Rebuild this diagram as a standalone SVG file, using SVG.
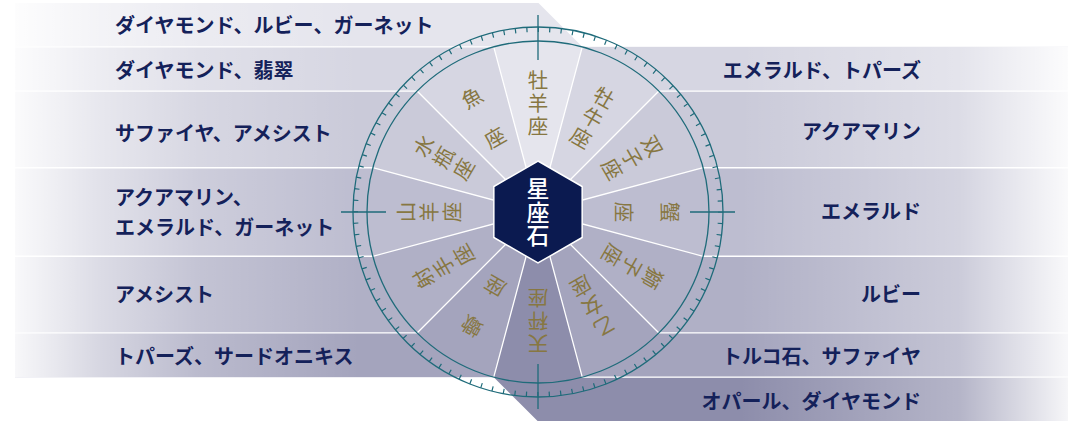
<svg xmlns="http://www.w3.org/2000/svg" width="1075" height="425" viewBox="0 0 1075 425">
<defs>
<style>
.c0{fill:#e5e5ed}.c1{fill:#d6d6e2}.c2{fill:#cacad9}.c3{fill:#bdbdd0}.c4{fill:#b0b0c6}.c5{fill:#a4a4bd}.c6{fill:#8d8dab}
.fadeL{fill:url(#gL)}.fadeR{fill:url(#gR)}
.lbl{font-family:"Noto Sans CJK JP","Noto Sans",sans-serif;font-weight:700;font-size:20px;fill:#14215a;dominant-baseline:central}
.lblR{text-anchor:end}
.z{font-family:"Noto Sans CJK JP",sans-serif;font-weight:400;font-size:20.5px;fill:#877742;text-anchor:middle;writing-mode:vertical-rl}
.wl{stroke:#ffffff;stroke-width:1.3;fill:none}
.ring{stroke:#1f6b7a;stroke-width:1.3;fill:none}
.hubt{font-family:"Noto Sans CJK JP",sans-serif;font-weight:500;font-size:23px;fill:#ffffff;text-anchor:middle;writing-mode:vertical-rl}
</style>
<linearGradient id="gL" gradientUnits="userSpaceOnUse" x1="15" y1="0" x2="360" y2="0">
<stop offset="0" stop-color="#ffffff" stop-opacity="0.92"/>
<stop offset="0.25" stop-color="#ffffff" stop-opacity="0.55"/>
<stop offset="0.53" stop-color="#ffffff" stop-opacity="0.25"/>
<stop offset="1" stop-color="#ffffff" stop-opacity="0"/>
</linearGradient>
<linearGradient id="gR" gradientUnits="userSpaceOnUse" x1="740" y1="0" x2="1068" y2="0">
<stop offset="0" stop-color="#ffffff" stop-opacity="0"/>
<stop offset="0.67" stop-color="#ffffff" stop-opacity="0.35"/>
<stop offset="1" stop-color="#ffffff" stop-opacity="0.92"/>
</linearGradient>
</defs>
<rect width="1075" height="425" fill="#ffffff"/>

<g id="bands-left">
<g id="band-L1"><polygon class="c0" points="15,3 538.5,3 582.26,46.83 15,46.83"/><rect class="fadeL" x="15" y="3" width="345" height="43.83"/><text class="lbl" x="115" y="24.5">ダイヤモンド、ルビー、ガーネット</text></g>
<g id="band-L2"><rect class="c1" x="15" y="46.83" width="523" height="44.25"/><rect class="fadeL" x="15" y="46.83" width="345" height="44.25"/><text class="lbl" x="115" y="69.5">ダイヤモンド、翡翠</text></g>
<g id="band-L3"><rect class="c2" x="15" y="91.08" width="523" height="76.66"/><rect class="fadeL" x="15" y="91.08" width="345" height="76.66"/><text class="lbl" x="115" y="132">サファイヤ、アメシスト</text></g>
<g id="band-L4"><rect class="c3" x="15" y="167.74" width="523" height="88.52"/><rect class="fadeL" x="15" y="167.74" width="345" height="88.52"/><text class="lbl" x="115" y="196.5">アクアマリン、</text><text class="lbl" x="115" y="226">エメラルド、ガーネット</text></g>
<g id="band-L5"><rect class="c4" x="15" y="256.26" width="523" height="76.66"/><rect class="fadeL" x="15" y="256.26" width="345" height="76.66"/><text class="lbl" x="115" y="293.5">アメシスト</text></g>
<g id="band-L6"><rect class="c5" x="15" y="332.92" width="523" height="44.25"/><rect class="fadeL" x="15" y="332.92" width="345" height="44.25"/><text class="lbl" x="115" y="355.5">トパーズ、サードオニキス</text></g>
</g>

<g id="bands-right">
<g id="band-R1"><rect class="c1" x="538" y="46.83" width="530" height="44.25"/><rect class="fadeR" x="740" y="46.83" width="328" height="44.25"/><text class="lbl lblR" x="921" y="69.5">エメラルド、トパーズ</text></g>
<g id="band-R2"><rect class="c2" x="538" y="91.08" width="530" height="76.66"/><rect class="fadeR" x="740" y="91.08" width="328" height="76.66"/><text class="lbl lblR" x="921" y="130.5">アクアマリン</text></g>
<g id="band-R3"><rect class="c3" x="538" y="167.74" width="530" height="88.52"/><rect class="fadeR" x="740" y="167.74" width="328" height="88.52"/><text class="lbl lblR" x="921" y="210.5">エメラルド</text></g>
<g id="band-R4"><rect class="c4" x="538" y="256.26" width="530" height="76.66"/><rect class="fadeR" x="740" y="256.26" width="328" height="76.66"/><text class="lbl lblR" x="921" y="293.5">ルビー</text></g>
<g id="band-R5"><rect class="c5" x="538" y="332.92" width="530" height="44.25"/><rect class="fadeR" x="740" y="332.92" width="328" height="44.25"/><text class="lbl lblR" x="921" y="355.5">トルコ石、サファイヤ</text></g>
<g id="band-R6"><polygon class="c6" points="493.74,377.17 1068,377.17 1068,421 537.6,421"/><rect class="fadeR" x="740" y="377.17" width="328" height="43.83"/><text class="lbl lblR" x="921" y="400.5">オパール、ダイヤモンド</text></g>
</g>

<g id="wheel">
<g id="sign-aries"><path class="c0" d="M538 212 L493.74 46.83 A171 171 0 0 1 582.26 46.83 Z"/><g transform="rotate(0 538 212)"><text class="z" x="538" y="80">牡</text><text class="z" x="538" y="103">羊</text><text class="z" x="538" y="126">座</text></g></g>
<g id="sign-taurus"><path class="c1" d="M538 212 L582.26 46.83 A171 171 0 0 1 658.92 91.08 Z"/><g transform="rotate(30 538 212)"><text class="z" x="538" y="80">牡</text><text class="z" x="538" y="103">牛</text><text class="z" x="538" y="126">座</text></g></g>
<g id="sign-gemini"><path class="c2" d="M538 212 L658.92 91.08 A171 171 0 0 1 703.17 167.74 Z"/><g transform="rotate(60 538 212)"><text class="z" x="538" y="80">双</text><text class="z" x="538" y="103">子</text><text class="z" x="538" y="126">座</text></g></g>
<g id="sign-cancer"><path class="c3" d="M538 212 L703.17 167.74 A171 171 0 0 1 703.17 256.26 Z"/><g transform="rotate(90 538 212)"><text class="z" x="538" y="80">蟹</text><text class="z" x="538" y="126">座</text></g></g>
<g id="sign-leo"><path class="c4" d="M538 212 L703.17 256.26 A171 171 0 0 1 658.92 332.92 Z"/><g transform="rotate(120 538 212)"><text class="z" x="538" y="80">獅</text><text class="z" x="538" y="103">子</text><text class="z" x="538" y="126">座</text></g></g>
<g id="sign-virgo"><path class="c5" d="M538 212 L658.92 332.92 A171 171 0 0 1 582.26 377.17 Z"/><g transform="rotate(150 538 212)"><text class="z" x="538" y="80">乙</text><text class="z" x="538" y="103">女</text><text class="z" x="538" y="126">座</text></g></g>
<g id="sign-libra"><path class="c6" d="M538 212 L582.26 377.17 A171 171 0 0 1 493.74 377.17 Z"/><g transform="rotate(180 538 212)"><text class="z" x="538" y="80">天</text><text class="z" x="538" y="103">秤</text><text class="z" x="538" y="126">座</text></g></g>
<g id="sign-scorpio"><path class="c5" d="M538 212 L493.74 377.17 A171 171 0 0 1 417.08 332.92 Z"/><g transform="rotate(210 538 212)"><text class="z" x="538" y="80">蠍</text><text class="z" x="538" y="126">座</text></g></g>
<g id="sign-sagittarius"><path class="c4" d="M538 212 L417.08 332.92 A171 171 0 0 1 372.83 256.26 Z"/><g transform="rotate(240 538 212)"><text class="z" x="538" y="80">射</text><text class="z" x="538" y="103">手</text><text class="z" x="538" y="126">座</text></g></g>
<g id="sign-capricorn"><path class="c3" d="M538 212 L372.83 256.26 A171 171 0 0 1 372.83 167.74 Z"/><g transform="rotate(270 538 212)"><text class="z" x="538" y="80">山</text><text class="z" x="538" y="103">羊</text><text class="z" x="538" y="126">座</text></g></g>
<g id="sign-aquarius"><path class="c2" d="M538 212 L372.83 167.74 A171 171 0 0 1 417.08 91.08 Z"/><g transform="rotate(300 538 212)"><text class="z" x="538" y="80">水</text><text class="z" x="538" y="103">瓶</text><text class="z" x="538" y="126">座</text></g></g>
<g id="sign-pisces"><path class="c1" d="M538 212 L417.08 91.08 A171 171 0 0 1 493.74 46.83 Z"/><g transform="rotate(330 538 212)"><text class="z" x="538" y="80">魚</text><text class="z" x="538" y="126">座</text></g></g>
</g>

<g id="connectors">
<path class="wl" d="M538 212 L582.26 46.83 M538 212 L658.92 91.08 M538 212 L703.17 167.74 M538 212 L703.17 256.26 M538 212 L658.92 332.92 M538 212 L582.26 377.17 M538 212 L493.74 377.17 M538 212 L417.08 332.92 M538 212 L372.83 256.26 M538 212 L372.83 167.74 M538 212 L417.08 91.08 M538 212 L493.74 46.83"/>
<path class="wl" d="M15 46.83 H493.74 M15 91.08 H417.08 M15 167.74 H372.83 M15 256.26 H372.83 M15 332.92 H417.08 M658.92 91.08 H1068 M703.17 167.74 H1068 M703.17 256.26 H1068 M658.92 332.92 H1068 M582.26 377.17 H1068"/>
</g>

<g id="dial">
<circle class="ring" cx="538" cy="212" r="185"/>
<circle class="ring" cx="538" cy="212" r="171"/>
<circle cx="538" cy="212" r="182.5" fill="none" stroke="#1f6b7a" stroke-width="5" stroke-dasharray="1.2 10.2668" stroke-dashoffset="0.6"/>
<path class="ring" d="M538 15 V60 M538 364 V409 M341 212 H386 M690 212 H735"/>
</g>

<g id="hub">
<polygon points="538,161 582.17,186.5 582.17,237.5 538,263 493.83,237.5 493.83,186.5" fill="#0b1a50" stroke="#ffffff" stroke-width="1.5"/>
<text class="hubt" x="538" y="188.5">星</text>
<text class="hubt" x="538" y="212">座</text>
<text class="hubt" x="538" y="235.5">石</text>
</g>
</svg>
